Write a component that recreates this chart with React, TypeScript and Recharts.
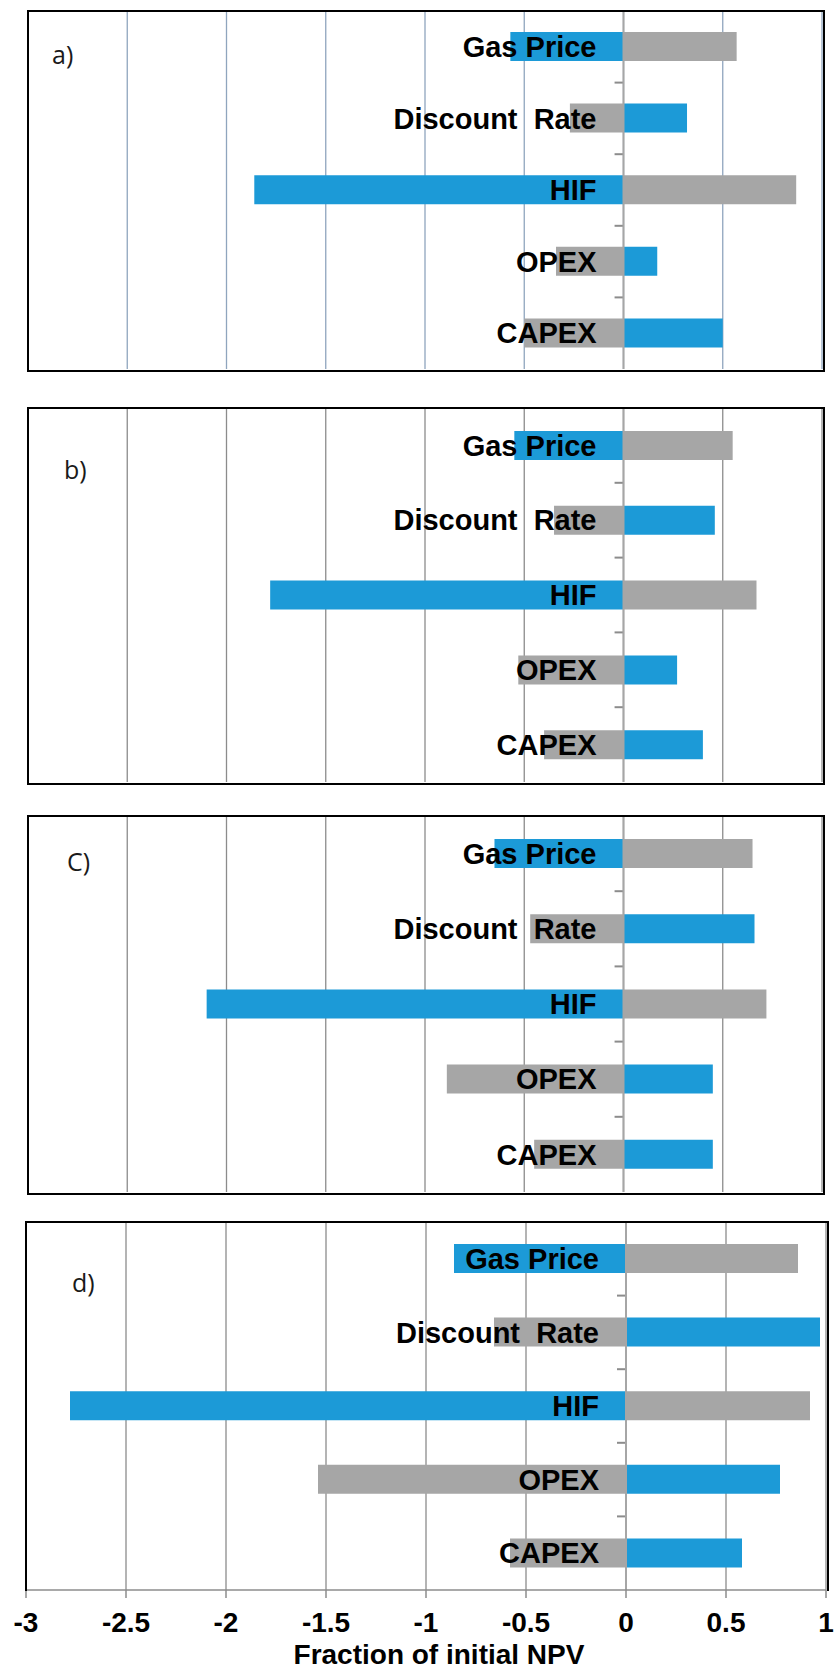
import React from "react";
import {
  BarChart,
  Bar,
  XAxis,
  YAxis,
  CartesianGrid,
  ReferenceLine,
  ReferenceDot,
  ReferenceArea,
  Label,
} from "recharts";

// Tornado panels: one side of each bar is the "low" case (blue), the other the
// "high" case (gray). Values are fractions of the initial NPV.
const CATEGORIES = ["Gas Price", "Discount\u00a0 Rate", "HIF", "OPEX", "CAPEX"];
const X_TICKS = [-3, -2.5, -2, -1.5, -1, -0.5, 0, 0.5, 1];

const A_BLUE = [-0.57, 0.32, -1.86, 0.17, 0.5];
const A_GRAY = [0.57, -0.27, 0.87, -0.34, -0.5];

const B_BLUE = [-0.55, 0.46, -1.78, 0.27, 0.4];
const B_GRAY = [0.55, -0.35, 0.67, -0.53, -0.4];

const C_BLUE = [-0.65, 0.66, -2.1, 0.45, 0.45];
const C_GRAY = [0.65, -0.47, 0.72, -0.89, -0.45];

const D_BLUE = [-0.86, 0.97, -2.78, 0.77, 0.58];
const D_GRAY = [0.86, -0.66, 0.92, -1.54, -0.58];

const BLUE = "#1c9ad7";
const GRAY = "#a6a6a6";
const FONT = "'Liberation Sans', Arial, sans-serif";
const W = 835;

// Little category-boundary tick on the zero axis: only the band's lower edge.
function EdgeTick(props: { x?: number; y?: number; width?: number; height?: number }) {
  const { x = 0, y = 0, width = 0, height = 0 } = props;
  return (
    <line x1={x} x2={x + width} y1={y + height} y2={y + height} stroke="#8c8c8c" strokeWidth={2} />
  );
}

interface PanelProps {
  tag: string;
  blue: number[];
  gray: number[];
  top: number;
  plotH: number;
  left: number;
  right: number;
  gridColor: string;
  tagPos: [number, number];
  withAxis?: boolean;
}

function Panel({ tag, blue, gray, top, plotH, left, right, gridColor, tagPos, withAxis }: PanelProps) {
  const rows = CATEGORIES.map((c, i) => ({ cat: c, blue: blue[i], gray: gray[i] }));
  const axisH = withAxis ? 80 : 0;
  return (
    <>
      <div style={{ position: "absolute", left: 0, top, width: W, height: plotH + axisH }}>
        <BarChart
          width={W}
          height={plotH + axisH}
          data={rows}
          layout="vertical"
          stackOffset="sign"
          barSize={29}
          margin={{ top: 0, right: W - right, bottom: 0, left }}
        >
          <CartesianGrid horizontal={false} stroke={gridColor} strokeWidth={1.3} />
          <XAxis
            type="number"
            domain={[-3, 1]}
            ticks={X_TICKS}
            interval={0}
            allowDataOverflow
            hide={!withAxis}
            height={axisH}
            tickFormatter={(v: number) => String(v)}
            tickSize={8}
            tickMargin={14}
            axisLine={{ stroke: "#8c8c8c", strokeWidth: 1.5 }}
            tickLine={{ stroke: "#8c8c8c", strokeWidth: 1.5 }}
            tick={{ fill: "#000", fontSize: 28, fontWeight: 700, fontFamily: FONT }}
          >
            {withAxis && (
              <Label
                value="Fraction of initial NPV"
                position="insideBottom"
                offset={6}
                dx={13}
                fill="#000"
                fontSize={28}
                fontWeight={700}
                fontFamily={FONT}
              />
            )}
          </XAxis>
          <YAxis type="category" dataKey="cat" hide />
          <ReferenceLine x={0} stroke="#a6a6a6" strokeWidth={2} />
          <Bar dataKey="blue" stackId="s" fill={BLUE} isAnimationActive={false} />
          <Bar dataKey="gray" stackId="s" fill={GRAY} isAnimationActive={false} />
          {CATEGORIES.slice(0, -1).map((c) => (
            <ReferenceArea key={"t" + c} x1={-0.045} x2={0} y1={c} y2={c} shape={EdgeTick} />
          ))}
          {CATEGORIES.map((c) => (
            <ReferenceDot
              key={c}
              x={0}
              y={c}
              r={0}
              fill="none"
              stroke="none"
              label={{
                value: c,
                position: "left",
                offset: 27,
                fill: "#000",
                fontSize: 29,
                fontWeight: 700,
                fontFamily: FONT,
              }}
            />
          ))}
        </BarChart>
      </div>
      <div
        style={{
          position: "absolute",
          left: left - 1,
          top: top - 1,
          width: right - left,
          height: plotH,
          border: "2px solid #000",
          borderBottom: withAxis ? "none" : "2px solid #000",
          pointerEvents: "none",
        }}
      />
      <div
        style={{
          position: "absolute",
          left: tagPos[0],
          top: tagPos[1],
          fontFamily: "'Open Sans', sans-serif",
          fontSize: 25,
          lineHeight: 1,
          color: "#1a1a1a",
        }}
      >
        {tag}
      </div>
    </>
  );
}

export default function App() {
  return (
    <div style={{ position: "absolute", left: 0, top: 0, width: W, height: 1670, background: "#fff" }}>
      <Panel tag="a)" blue={A_BLUE} gray={A_GRAY} top={11} plotH={358} left={28} right={822} gridColor="#8fa5be" tagPos={[52, 42]} />
      <Panel tag="b)" blue={B_BLUE} gray={B_GRAY} top={408} plotH={374} left={28} right={822} gridColor="#8c8c8c" tagPos={[64, 457]} />
      <Panel tag="C)" blue={C_BLUE} gray={C_GRAY} top={816} plotH={376} left={28} right={822} gridColor="#8c8c8c" tagPos={[67, 849]} />
      <Panel tag="d)" blue={D_BLUE} gray={D_GRAY} top={1222} plotH={368} left={26} right={826} gridColor="#8c8c8c" tagPos={[72, 1270]} withAxis />
    </div>
  );
}
